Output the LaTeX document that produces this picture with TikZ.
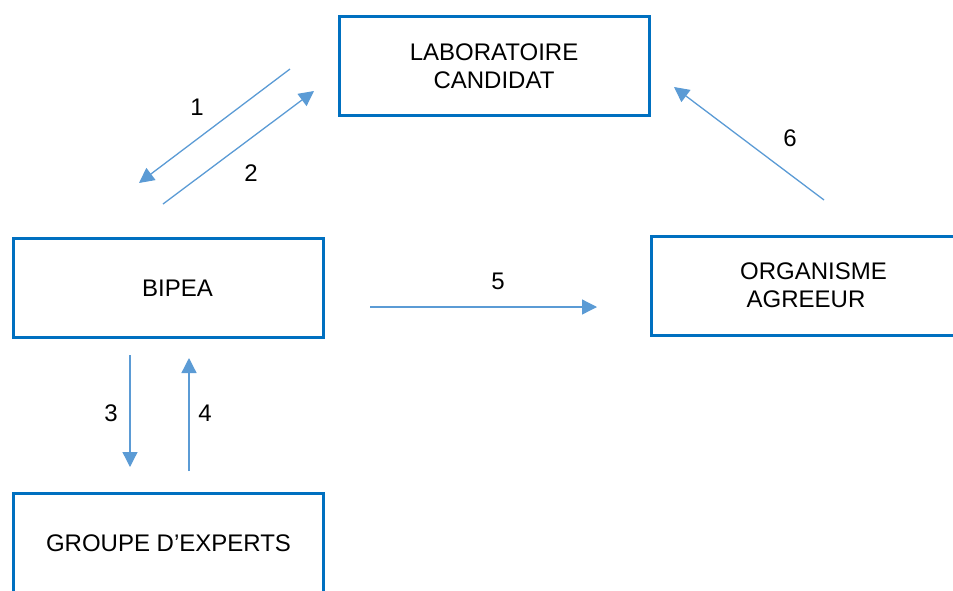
\documentclass[tikz,border=0pt]{standalone}
\usepackage{fontspec}
\setmainfont{Liberation Sans}
\usetikzlibrary{arrows.meta}
\definecolor{boxblue}{HTML}{0070C0}
\definecolor{arrowblue}{HTML}{5B9BD5}
\begin{document}
\begin{tikzpicture}[x=1pt,y=-1pt,
    bloc/.style={draw=boxblue,line width=3pt,minimum width=310pt,minimum height=99pt,
      align=center,font=\fontsize{24}{28}\selectfont},
    num/.style={font=\fontsize{24}{28}\selectfont},
    fleche/.style={arrowblue,line width=1.3pt,-{Triangle[length=15pt,width=15pt]}}]
      \useasboundingbox (0,0) rectangle (953,590);
      \clip (0,0) rectangle (953,590);
      \draw
        (494,66) node[bloc] (labo){LABORATOIRE\\CANDIDAT}
        (168.5,288) node[bloc] (bipea){\hspace*{18pt}BIPEA}
        (806,285.5) node[bloc] (agreeur){\hspace*{15pt}ORGANISME\\AGREEUR}
        (168.5,543) node[bloc] (experts){GROUPE D’EXPERTS};
      \draw
        (197,107) node[num] (n1){1}
        (251,173) node[num] (n2){2}
        (111,413) node[num] (n3){3}
        (205,413) node[num] (n4){4}
        (498,281) node[num] (n5){5}
        (790,138) node[num] (n6){6};
      \coordinate (a1) at (290,69);
      \coordinate (b1) at (139,183);
      \coordinate (a2) at (163,204);
      \coordinate (b2) at (314,91);
      \coordinate (a3) at (130,355);
      \coordinate (b3) at (130,467);
      \coordinate (a4) at (189,471);
      \coordinate (b4) at (189,358);
      \coordinate (a5) at (370,307);
      \coordinate (b5) at (597,307);
      \coordinate (a6) at (824,200);
      \coordinate (b6) at (674,87);
      \begin{scope}[fleche]
        \draw (a1) to (b1);
        \draw (a2) to (b2);
        \draw (a3) to (b3);
        \draw (a4) to (b4);
        \draw (a5) to (b5);
        \draw (a6) to (b6);
      \end{scope}
    \end{tikzpicture}
\end{document}
